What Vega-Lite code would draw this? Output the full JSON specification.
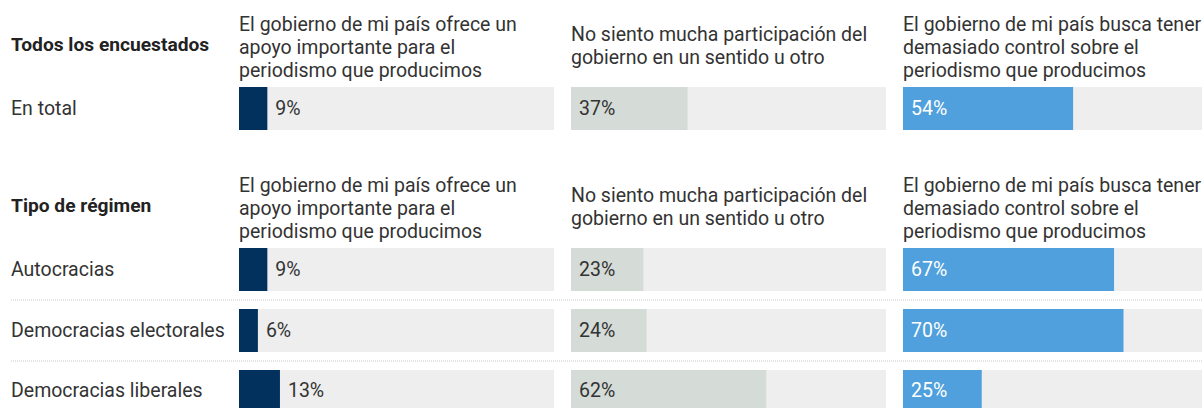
{
  "$schema": "https://vega.github.io/schema/vega-lite/v6.json",
  "padding": {"left": 10, "top": 12, "right": 0, "bottom": 0},
  "background": "white",
  "config": {
    "font": "Roboto",
    "view": {"stroke": null},
    "title": {"fontSize": 19.5, "fontWeight": "normal", "color": "#333333", "anchor": "start", "frame": "group", "lineHeight": 23, "offset": 6},
    "text": {"font": "Roboto", "fontSize": 19.5}
  },
  "datasets": {
    "total": [
      {"grupo": "En total", "respuesta": "apoyo", "valor": 0.09},
      {"grupo": "En total", "respuesta": "neutral", "valor": 0.37},
      {"grupo": "En total", "respuesta": "control", "valor": 0.54}
    ],
    "regimen": [
      {"grupo": "Autocracias", "respuesta": "apoyo", "valor": 0.09},
      {"grupo": "Autocracias", "respuesta": "neutral", "valor": 0.23},
      {"grupo": "Autocracias", "respuesta": "control", "valor": 0.67},
      {"grupo": "Democracias electorales", "respuesta": "apoyo", "valor": 0.06},
      {"grupo": "Democracias electorales", "respuesta": "neutral", "valor": 0.24},
      {"grupo": "Democracias electorales", "respuesta": "control", "valor": 0.70},
      {"grupo": "Democracias liberales", "respuesta": "apoyo", "valor": 0.13},
      {"grupo": "Democracias liberales", "respuesta": "neutral", "valor": 0.62},
      {"grupo": "Democracias liberales", "respuesta": "control", "valor": 0.25}
    ],
    "separadores": [
      {"grupo": "Autocracias"},
      {"grupo": "Democracias electorales"}
    ]
  },
  "spacing": 43,
  "vconcat": [
    {
      "hconcat": [
        {
          "width": 211, "height": 43,
          "title": {"text": ["", "Todos los encuestados", ""], "fontWeight": "bold", "fontSize": 19.2, "color": "#222222", "offset": 9},
          "data": {"name": "total"},
          "transform": [{"filter": "datum.respuesta === 'apoyo'"}],
          "encoding": {
            "y": {"field": "grupo", "type": "nominal", "scale": {"domain": ["En total"], "paddingInner": 0.295, "paddingOuter": 0}, "axis": null}
          },
          "layer": [
            {"mark": {"type": "text", "align": "left", "color": "#333333"}, "encoding": {"x": {"datum": 0, "type": "quantitative", "scale": {"domain": [0, 211]}, "axis": null}, "text": {"field": "grupo"}}}
          ]
        },
        {
          "width": 315, "height": 43,
          "title": {"text": ["El gobierno de mi país ofrece un", "apoyo importante para el", "periodismo que producimos"]},
          "data": {"name": "total"},
          "transform": [{"filter": "datum.respuesta === 'apoyo'"}],
          "encoding": {
            "y": {"field": "grupo", "type": "nominal", "scale": {"domain": ["En total"], "paddingInner": 0.295, "paddingOuter": 0}, "axis": null}
          },
          "layer": [
            {"mark": {"type": "bar", "color": "#eeeeee"}, "encoding": {"x": {"datum": 1, "type": "quantitative", "scale": {"domain": [0, 1]}, "axis": null}}},
            {"mark": {"type": "bar", "color": "#02315e"}, "encoding": {"x": {"field": "valor", "type": "quantitative"}}},
            {"mark": {"type": "text", "align": "left", "dx": 8, "color": "#333333"}, "encoding": {"x": {"field": "valor", "type": "quantitative"}, "text": {"field": "valor", "format": ".0%"}}}
          ]
        },
        {
          "width": 315, "height": 43,
          "title": {"text": ["No siento mucha participación del", "gobierno en un sentido u otro"], "offset": 18.5},
          "data": {"name": "total"},
          "transform": [{"filter": "datum.respuesta === 'neutral'"}],
          "encoding": {
            "y": {"field": "grupo", "type": "nominal", "scale": {"domain": ["En total"], "paddingInner": 0.295, "paddingOuter": 0}, "axis": null}
          },
          "layer": [
            {"mark": {"type": "bar", "color": "#eeeeee"}, "encoding": {"x": {"datum": 1, "type": "quantitative", "scale": {"domain": [0, 1]}, "axis": null}}},
            {"mark": {"type": "bar", "color": "#d5dbd6"}, "encoding": {"x": {"field": "valor", "type": "quantitative"}}},
            {"mark": {"type": "text", "align": "left", "dx": 8, "color": "#333333"}, "encoding": {"x": {"datum": 0, "type": "quantitative"}, "text": {"field": "valor", "format": ".0%"}}}
          ]
        },
        {
          "width": 315, "height": 43,
          "title": {"text": ["El gobierno de mi país busca tener", "demasiado control sobre el", "periodismo que producimos"]},
          "data": {"name": "total"},
          "transform": [{"filter": "datum.respuesta === 'control'"}],
          "encoding": {
            "y": {"field": "grupo", "type": "nominal", "scale": {"domain": ["En total"], "paddingInner": 0.295, "paddingOuter": 0}, "axis": null}
          },
          "layer": [
            {"mark": {"type": "bar", "color": "#eeeeee"}, "encoding": {"x": {"datum": 1, "type": "quantitative", "scale": {"domain": [0, 1]}, "axis": null}}},
            {"mark": {"type": "bar", "color": "#4fa0dc"}, "encoding": {"x": {"field": "valor", "type": "quantitative"}}},
            {"mark": {"type": "text", "align": "left", "dx": 8, "color": "#ffffff"}, "encoding": {"x": {"datum": 0, "type": "quantitative"}, "text": {"field": "valor", "format": ".0%"}}}
          ]
        }
      ],
      "spacing": 17,
      "bounds": "flush"
    },
    {
      "hconcat": [
        {
          "width": 211, "height": 165,
          "title": {"text": ["", "Tipo de régimen", ""], "fontWeight": "bold", "fontSize": 19.2, "color": "#222222", "offset": 9},
          "encoding": {
            "y": {"field": "grupo", "type": "nominal", "scale": {"domain": ["Autocracias", "Democracias electorales", "Democracias liberales"], "paddingInner": 0.295, "paddingOuter": 0}, "axis": null}
          },
          "layer": [
            {"data": {"name": "separadores"}, "mark": {"type": "rule", "color": "#c8c8c8", "strokeWidth": 1, "strokeDash": [1, 1], "yOffset": 9},
              "encoding": {"y": {"field": "grupo", "type": "nominal", "bandPosition": 1}, "x": {"datum": 0, "type": "quantitative", "scale": {"domain": [0, 211]}, "axis": null}, "x2": {"datum": 1300}}},
            {"data": {"name": "regimen"}, "transform": [{"filter": "datum.respuesta === 'apoyo'"}], "mark": {"type": "text", "align": "left", "color": "#333333"}, "encoding": {"x": {"datum": 0, "type": "quantitative"}, "text": {"field": "grupo"}}}
          ]
        },
        {
          "width": 315, "height": 165,
          "title": {"text": ["El gobierno de mi país ofrece un", "apoyo importante para el", "periodismo que producimos"]},
          "data": {"name": "regimen"},
          "transform": [{"filter": "datum.respuesta === 'apoyo'"}],
          "encoding": {
            "y": {"field": "grupo", "type": "nominal", "scale": {"domain": ["Autocracias", "Democracias electorales", "Democracias liberales"], "paddingInner": 0.295, "paddingOuter": 0}, "axis": null}
          },
          "layer": [
            {"mark": {"type": "bar", "color": "#eeeeee"}, "encoding": {"x": {"datum": 1, "type": "quantitative", "scale": {"domain": [0, 1]}, "axis": null}}},
            {"mark": {"type": "bar", "color": "#02315e"}, "encoding": {"x": {"field": "valor", "type": "quantitative"}}},
            {"mark": {"type": "text", "align": "left", "dx": 8, "color": "#333333"}, "encoding": {"x": {"field": "valor", "type": "quantitative"}, "text": {"field": "valor", "format": ".0%"}}}
          ]
        },
        {
          "width": 315, "height": 165,
          "title": {"text": ["No siento mucha participación del", "gobierno en un sentido u otro"], "offset": 18.5},
          "data": {"name": "regimen"},
          "transform": [{"filter": "datum.respuesta === 'neutral'"}],
          "encoding": {
            "y": {"field": "grupo", "type": "nominal", "scale": {"domain": ["Autocracias", "Democracias electorales", "Democracias liberales"], "paddingInner": 0.295, "paddingOuter": 0}, "axis": null}
          },
          "layer": [
            {"mark": {"type": "bar", "color": "#eeeeee"}, "encoding": {"x": {"datum": 1, "type": "quantitative", "scale": {"domain": [0, 1]}, "axis": null}}},
            {"mark": {"type": "bar", "color": "#d5dbd6"}, "encoding": {"x": {"field": "valor", "type": "quantitative"}}},
            {"mark": {"type": "text", "align": "left", "dx": 8, "color": "#333333"}, "encoding": {"x": {"datum": 0, "type": "quantitative"}, "text": {"field": "valor", "format": ".0%"}}}
          ]
        },
        {
          "width": 315, "height": 165,
          "title": {"text": ["El gobierno de mi país busca tener", "demasiado control sobre el", "periodismo que producimos"]},
          "data": {"name": "regimen"},
          "transform": [{"filter": "datum.respuesta === 'control'"}],
          "encoding": {
            "y": {"field": "grupo", "type": "nominal", "scale": {"domain": ["Autocracias", "Democracias electorales", "Democracias liberales"], "paddingInner": 0.295, "paddingOuter": 0}, "axis": null}
          },
          "layer": [
            {"mark": {"type": "bar", "color": "#eeeeee"}, "encoding": {"x": {"datum": 1, "type": "quantitative", "scale": {"domain": [0, 1]}, "axis": null}}},
            {"mark": {"type": "bar", "color": "#4fa0dc"}, "encoding": {"x": {"field": "valor", "type": "quantitative"}}},
            {"mark": {"type": "text", "align": "left", "dx": 8, "color": "#ffffff"}, "encoding": {"x": {"datum": 0, "type": "quantitative"}, "text": {"field": "valor", "format": ".0%"}}}
          ]
        }
      ],
      "spacing": 17,
      "bounds": "flush"
    }
  ]
}
